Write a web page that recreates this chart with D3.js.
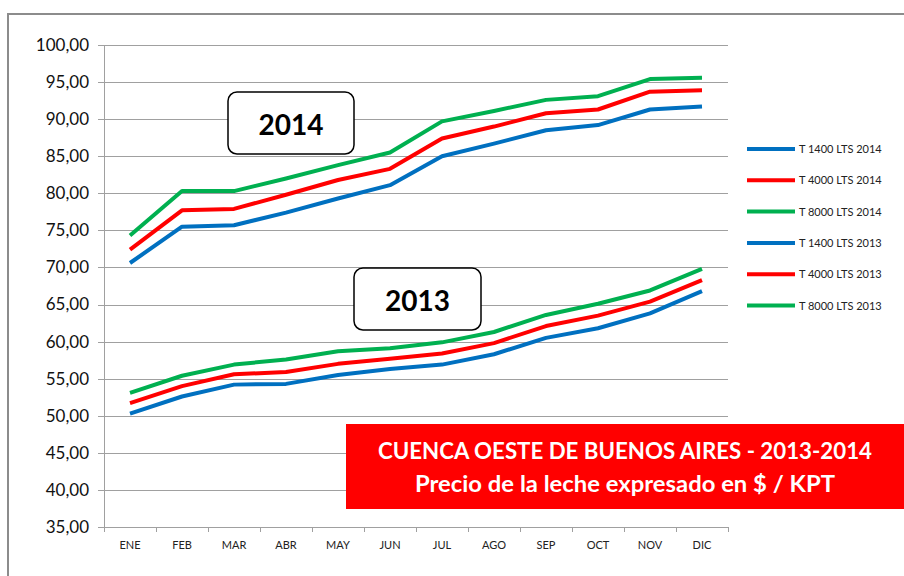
<!DOCTYPE html>
<html>
<head>
<meta charset="utf-8">
<script src="https://cdn.jsdelivr.net/npm/d3@7"></script>
<style>
  html, body { margin: 0; padding: 0; background: #fff; }
  svg { display: block; font-family: Lato, "Open Sans", sans-serif; }
</style>
</head>
<body>
<svg id="svg" width="904" height="576"></svg>
<script>
// meses
const months = ["ENE","FEB","MAR","ABR","MAY","JUN","JUL","AGO","SEP","OCT","NOV","DIC"];

// precios 2014
const t1400_2014 = [70.6, 75.5, 75.7, 77.4, 79.3, 81.1, 85.0, 86.7, 88.5, 89.2, 91.3, 91.7];
const t4000_2014 = [72.4, 77.7, 77.9, 79.8, 81.8, 83.3, 87.4, 89.0, 90.8, 91.3, 93.7, 93.9];
const t8000_2014 = [74.3, 80.3, 80.3, 82.0, 83.8, 85.5, 89.7, 91.1, 92.6, 93.1, 95.4, 95.6];
// precios 2013
const t1400_2013 = [50.3, 52.6, 54.2, 54.3, 55.5, 56.3, 56.9, 58.3, 60.5, 61.8, 63.8, 66.8];
const t4000_2013 = [51.7, 54.0, 55.6, 55.9, 57.0, 57.7, 58.4, 59.8, 62.1, 63.5, 65.4, 68.3];
const t8000_2013 = [53.1, 55.4, 56.9, 57.6, 58.7, 59.1, 59.9, 61.3, 63.6, 65.1, 66.9, 69.8];

const seriesNames = ["T 1400 LTS 2014","T 4000 LTS 2014","T 8000 LTS 2014","T 1400 LTS 2013","T 4000 LTS 2013","T 8000 LTS 2013"];
const seriesValues = [t1400_2014, t4000_2014, t8000_2014, t1400_2013, t4000_2013, t8000_2013];
const yTicks = [35,40,45,50,55,60,65,70,75,80,85,90,95,100];

const colors = ["#0070C0","#FF0000","#00B050","#0070C0","#FF0000","#00B050"];

const svg = d3.select("#svg");
const g = svg.append("g");

// marco del grafico
g.append("path")
  .attr("d", "M8,600 L8,14 L920,14")
  .attr("fill", "none").attr("stroke", "#8c8c8c").attr("stroke-width", 2);

// escalas
const x = d3.scaleBand().domain(months).range([104, 728]);
const y = d3.scaleLinear().domain([35, 100]).range([527, 45]);

// grilla horizontal
g.selectAll(".grid").data(yTicks).join("line")
  .attr("x1", 98).attr("x2", 728)
  .attr("y1", d => Math.round(y(d)) + 0.5).attr("y2", d => Math.round(y(d)) + 0.5)
  .attr("stroke", "#a0a0a0").attr("stroke-width", 1);

// eje y
g.append("line")
  .attr("x1", 104.5).attr("x2", 104.5).attr("y1", 45).attr("y2", 527)
  .attr("stroke", "#a0a0a0");
g.selectAll(".ylab").data(yTicks).join("text")
  .attr("x", 89).attr("y", d => y(d))
  .attr("dy", "0.35em")
  .attr("text-anchor", "end")
  .attr("font-size", 17)
  .attr("fill", "#111")
  .text(d => d3.format(".2f")(d).replace(".", ","));

// eje x
g.append("line")
  .attr("x1", 104).attr("x2", 728).attr("y1", 527.5).attr("y2", 527.5)
  .attr("stroke", "#a0a0a0");
const xTickPos = months.map(m => x(m)).concat([728]);
g.selectAll(".xtick").data(xTickPos).join("line")
  .attr("x1", d => Math.round(d) + 0.5).attr("x2", d => Math.round(d) + 0.5)
  .attr("y1", 527).attr("y2", 532)
  .attr("stroke", "#a0a0a0");
g.selectAll(".xlab").data(months).join("text")
  .attr("x", d => x(d) + x.bandwidth() / 2).attr("y", 549)
  .attr("text-anchor", "middle")
  .attr("font-size", 11)
  .attr("fill", "#222")
  .text(d => d);

// lineas
const line = d3.line()
  .x((d, i) => x(months[i]) + x.bandwidth() / 2)
  .y(d => y(d));
seriesValues.forEach((vals, k) => {
  g.append("path")
    .attr("d", line(vals))
    .attr("fill", "none")
    .attr("stroke", colors[k])
    .attr("stroke-width", 4)
    .attr("stroke-linejoin", "round");
});

// etiquetas de año
const yearBoxes = [
  { label: "2014", x: 228, y: 92, w: 126, h: 62 },
  { label: "2013", x: 354, y: 268, w: 127, h: 62 }
];
yearBoxes.forEach(b => {
  g.append("rect")
    .attr("x", b.x).attr("y", b.y).attr("width", b.w).attr("height", b.h)
    .attr("rx", 9).attr("fill", "#fff")
    .attr("stroke", "#000").attr("stroke-width", 1.5);
  g.append("text")
    .attr("x", b.x + b.w / 2).attr("y", b.y + 43)
    .attr("text-anchor", "middle")
    .attr("font-size", 28).attr("font-weight", "bold")
    .attr("fill", "#000")
    .text(b.label);
});

// leyenda
seriesNames.forEach((name, k) => {
  const ly = 149 + k * 31.3;
  g.append("line")
    .attr("x1", 747).attr("x2", 795).attr("y1", ly).attr("y2", ly)
    .attr("stroke", colors[k]).attr("stroke-width", 4);
  g.append("text")
    .attr("x", 799).attr("y", ly + 4)
    .attr("font-size", 11).attr("fill", "#222")
    .text(name);
});

// titulo en caja roja
g.append("rect")
  .attr("x", 346).attr("y", 424).attr("width", 600).attr("height", 85)
  .attr("fill", "#FF0000");
g.append("text")
  .attr("x", 625).attr("y", 459)
  .attr("text-anchor", "middle")
  .attr("font-size", 22).attr("font-weight", "bold").attr("fill", "#fff")
  .attr("textLength", 494).attr("lengthAdjust", "spacingAndGlyphs")
  .text("CUENCA OESTE DE BUENOS AIRES - 2013-2014");
g.append("text")
  .attr("x", 625).attr("y", 492)
  .attr("text-anchor", "middle")
  .attr("font-size", 22).attr("font-weight", "bold").attr("fill", "#fff")
  .attr("textLength", 420).attr("lengthAdjust", "spacingAndGlyphs")
  .text("Precio de la leche expresado en $ / KPT");
</script>
</body>
</html>
